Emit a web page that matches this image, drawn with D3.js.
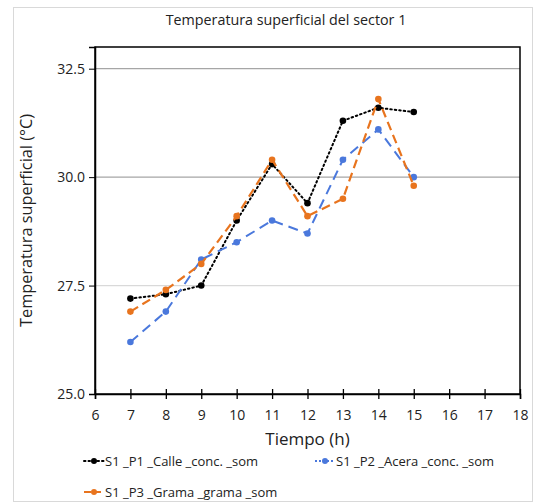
<!DOCTYPE html>
<html>
<meta charset="utf-8">
<head>
  <script src="https://d3js.org/d3.v7.min.js"></script>
  <style>
    body { margin: 0; background: #fff; }
    text { font-family: "Open Sans", "Noto Sans", sans-serif; fill: #222; }
  </style>
</head>
<body>
<div id="chart"></div>
<script>
  "use strict"

  var hours = [7, 8, 9, 10, 11, 12, 13, 14, 15];
  var p1Calle = [27.2, 27.3, 27.5, 29.0, 30.3, 29.4, 31.3, 31.6, 31.5];
  var p2Acera = [26.2, 26.9, 28.1, 28.5, 29.0, 28.7, 30.4, 31.1, 30.0];
  var p3Grama = [26.9, 27.4, 28.0, 29.1, 30.4, 29.1, 29.5, 31.8, 29.8];
  var seriesNames = ["S1 _P1 _Calle _conc. _som", "S1 _P2 _Acera _conc. _som", "S1 _P3 _Grama _grama _som"];
  var xTicks = [6, 7, 8, 9, 10, 11, 12, 13, 14, 15, 16, 17, 18];
  var yTicks = [25.0, 27.5, 30.0, 32.5];

  var width = 535, height = 504;
  var m = {left: 95, right: 15, top: 47, bottom: 110};

  var svg = d3.select("#chart").append("svg")
      .attr("width", width).attr("height", height);

  // chart frame
  svg.append("rect")
      .attr("x", 13.5).attr("y", 7.5)
      .attr("width", width - 16).attr("height", height - 10)
      .attr("fill", "none").attr("stroke", "#d9d9d9");

  var x = d3.scaleLinear().domain([6, 18]).range([m.left, width - m.right]);
  var y = d3.scaleLinear().domain([25, 33]).range([height - m.bottom, m.top]);

  // gridlines
  svg.append("g").selectAll("line")
      .data(yTicks.slice(1))
    .enter().append("line")
      .attr("x1", x(6)).attr("x2", x(18))
      .attr("y1", function(d) { return y(d); })
      .attr("y2", function(d) { return y(d); })
      .attr("stroke", function(d) { return d === 27.5 ? "#d9d9d9" : "#a6a6a6"; })
      .attr("stroke-width", 1.3);

  // plot box
  svg.append("rect")
      .attr("x", x(6)).attr("y", y(33))
      .attr("width", x(18) - x(6)).attr("height", y(25) - y(33))
      .attr("fill", "none").attr("stroke", "#000").attr("stroke-width", 1.5);

  var yAxis = svg.append("g")
      .attr("transform", "translate(" + x(6) + ",0)")
      .call(d3.axisLeft(y).tickValues(yTicks).tickFormat(d3.format(".1f")).tickSize(6).tickPadding(4));
  yAxis.select(".domain").attr("stroke-width", 1.5);
  yAxis.selectAll("text").style("font-size", "14px").attr("fill", "#222");

  var xAxis = svg.append("g")
      .attr("transform", "translate(0," + y(25) + ")")
      .call(d3.axisBottom(x).tickValues(xTicks).tickSize(5).tickPadding(11));
  xAxis.select(".domain").attr("stroke-width", 1.5);
  xAxis.selectAll(".tick line").attr("y1", -5).attr("stroke-width", 1.3);
  xAxis.selectAll("text").style("font-size", "14px").attr("fill", "#222");

  // titles
  svg.append("text")
      .attr("x", 286).attr("y", 25)
      .attr("text-anchor", "middle").style("font-size", "14.3px")
      .text("Temperatura superficial del sector 1");

  svg.append("text")
      .attr("x", (x(6) + x(18)) / 2).attr("y", 445)
      .attr("text-anchor", "middle").style("font-size", "17px")
      .text("Tiempo (h)");

  svg.append("text")
      .attr("transform", "translate(32," + (y(29)) + ") rotate(-90)")
      .attr("text-anchor", "middle").style("font-size", "16.3px")
      .text("Temperatura superficial (°C)");

  var series = [
    {name: seriesNames[0], values: p1Calle, color: "#000000", dash: "1.5,3", width: 2, cap: "round"},
    {name: seriesNames[1], values: p2Acera, color: "#4a78dc", dash: "10,6", width: 2, cap: "butt"},
    {name: seriesNames[2], values: p3Grama, color: "#e8741e", dash: "9,5", width: 2.2, cap: "butt"}
  ];

  var line = d3.line()
      .x(function(d, i) { return x(hours[i]); })
      .y(function(d) { return y(d); });

  series.forEach(function(s) {
    svg.append("path")
        .datum(s.values)
        .attr("d", line)
        .attr("fill", "none")
        .attr("stroke", s.color)
        .attr("stroke-width", s.width)
        .attr("stroke-dasharray", s.dash)
        .attr("stroke-linecap", s.cap);
    svg.append("g").selectAll("circle")
        .data(s.values)
      .enter().append("circle")
        .attr("cx", function(d, i) { return x(hours[i]); })
        .attr("cy", function(d) { return y(d); })
        .attr("r", 3.3)
        .attr("fill", s.color);
  });

  // legend
  var legendPos = [[84, 461], [315, 461], [84, 492]];
  series.forEach(function(s, i) {
    var g = svg.append("g").attr("transform", "translate(" + legendPos[i][0] + "," + legendPos[i][1] + ")");
    g.append("line")
        .attr("x1", 0).attr("x2", 20).attr("y1", 0).attr("y2", 0)
        .attr("stroke", s.color).attr("stroke-width", 2)
        .attr("stroke-dasharray", i === 0 ? "1.5,3" : (i === 1 ? "2,2" : "7,3"))
        .attr("stroke-linecap", i === 0 ? "round" : "butt");
    g.append("circle").attr("cx", 10).attr("cy", 0).attr("r", 3).attr("fill", s.color);
    g.append("text")
        .attr("x", 21).attr("y", 5)
        .style("font-size", "13px")
        .text(s.name);
  });
</script>
</body>
</html>
